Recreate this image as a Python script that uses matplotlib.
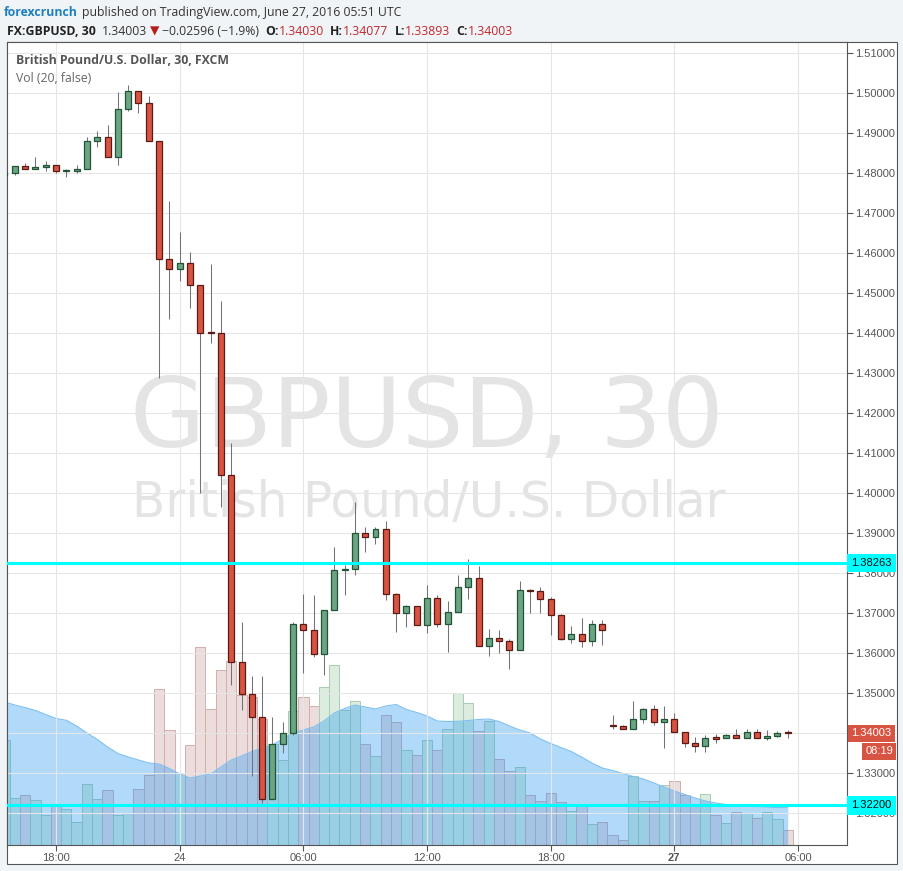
import numpy as np
import matplotlib.pyplot as plt
from matplotlib.patches import Rectangle

# GBPUSD 30-minute bars, 23 Jun 15:30 -> 27 Jun 05:30 (weekend gap collapsed)
# bar index 0 = 23 Jun 18:00
bar_idx = np.arange(-5, 72)

opens = [1.4795, 1.4800, 1.4818, 1.4810, 1.4815, 1.4820, 1.4805, 1.4807, 1.4812, 1.4882,
         1.4892, 1.4842, 1.4962, 1.5007, 1.4977, 1.4882, 1.4585, 1.4560, 1.4575, 1.4520,
         1.4402, 1.4402, 1.4047, 1.3578, 1.3498, 1.3440, 1.3235, 1.3373, 1.3400, 1.3673,
         1.3658, 1.3598, 1.3708, 1.3808, 1.3810, 1.3902, 1.3890, 1.3910, 1.3748, 1.3700,
         1.3718, 1.3670, 1.3738, 1.3673, 1.3703, 1.3765, 1.3788, 1.3618, 1.3638, 1.3630,
         1.3608, 1.3758, 1.3755, 1.3735, 1.3695, 1.3635, 1.3648, 1.3630, 1.3673, 1.3420,
         1.3418, 1.3410, 1.3435, 1.3460, 1.3428, 1.3435, 1.3403, 1.3375, 1.3368, 1.3388,
         1.3388, 1.3395, 1.3388, 1.3403, 1.3388, 1.3393, 1.34030]
highs = [1.4800, 1.4818, 1.4825, 1.4840, 1.4832, 1.4820, 1.4810, 1.4820, 1.4892, 1.4905,
         1.4921, 1.5003, 1.5021, 1.5007, 1.4993, 1.4882, 1.4731, 1.4653, 1.4603, 1.4520,
         1.4573, 1.4481, 1.4125, 1.3678, 1.3543, 1.3543, 1.3440, 1.3428, 1.3678, 1.3748,
         1.3745, 1.3708, 1.3866, 1.3820, 1.3978, 1.3916, 1.3916, 1.3931, 1.3750, 1.3721,
         1.3718, 1.3771, 1.3745, 1.3731, 1.3796, 1.3836, 1.3818, 1.3660, 1.3658, 1.3635,
         1.3781, 1.3760, 1.3765, 1.3740, 1.3698, 1.3668, 1.3688, 1.3683, 1.3683, 1.3446,
         1.3421, 1.3480, 1.3463, 1.3471, 1.3468, 1.3450, 1.3403, 1.3390, 1.3395, 1.3398,
         1.3398, 1.3410, 1.3410, 1.3410, 1.3408, 1.3405, 1.34077]
lows = [1.4793, 1.4797, 1.4810, 1.4810, 1.4807, 1.4800, 1.4792, 1.4800, 1.4812, 1.4867,
        1.4842, 1.4822, 1.4955, 1.4950, 1.4882, 1.4289, 1.4437, 1.4532, 1.4464, 1.4000,
        1.4377, 1.3967, 1.3522, 1.3459, 1.3294, 1.3225, 1.3235, 1.3350, 1.3396, 1.3550,
        1.3591, 1.3547, 1.3708, 1.3747, 1.3797, 1.3853, 1.3874, 1.3733, 1.3654, 1.3667,
        1.3670, 1.3652, 1.3667, 1.3604, 1.3703, 1.3735, 1.3618, 1.3594, 1.3600, 1.3562,
        1.3608, 1.3702, 1.3700, 1.3645, 1.3633, 1.3627, 1.3615, 1.3618, 1.3620, 1.3412,
        1.3410, 1.3410, 1.3425, 1.3420, 1.3363, 1.3403, 1.3365, 1.3353, 1.3353, 1.3375,
        1.3388, 1.3388, 1.3388, 1.3388, 1.3383, 1.3390, 1.33893]
closes = [1.4800, 1.4818, 1.4810, 1.4815, 1.4820, 1.4805, 1.4807, 1.4812, 1.4882, 1.4892,
          1.4842, 1.4962, 1.5007, 1.4977, 1.4882, 1.4585, 1.4560, 1.4575, 1.4520, 1.4402,
          1.4400, 1.4047, 1.3578, 1.3498, 1.3440, 1.3235, 1.3373, 1.3400, 1.3673, 1.3658,
          1.3598, 1.3708, 1.3808, 1.3810, 1.3902, 1.3890, 1.3910, 1.3748, 1.3700, 1.3718,
          1.3670, 1.3738, 1.3673, 1.3703, 1.3765, 1.3788, 1.3618, 1.3638, 1.3630, 1.3608,
          1.3758, 1.3755, 1.3735, 1.3695, 1.3635, 1.3648, 1.3630, 1.3673, 1.3658, 1.3418,
          1.3410, 1.3435, 1.3460, 1.3428, 1.3435, 1.3403, 1.3375, 1.3368, 1.3388, 1.3387,
          1.3395, 1.3388, 1.3403, 1.3388, 1.3393, 1.3400, 1.34003]

volume = [104.7, 47.3, 50.3, 45.3, 29.7, 39.3, 36.0, 23.3, 61.3, 46.3,
          55.3, 29.7, 32.3, 56.3, 70.3, 156.3, 115.3, 72.0, 100.3, 198.5,
          136.3, 175.3, 183.7, 150.0, 148.0, 126.0, 101.3, 84.7, 133.7, 147.7,
          139.3, 157.7, 180.3, 135.3, 144.3, 101.3, 89.3, 129.7, 122.7, 95.3,
          90.3, 105.3, 94.7, 116.3, 152.3, 142.3, 114.3, 123.7, 86.3, 74.3,
          78.3, 50.3, 44.3, 52.3, 43.3, 33.7, 40.3, 21.3, 22.7, 10.3,
          5.3, 68.7, 44.3, 44.3, 60.3, 63.7, 49.7, 41.3, 50.7, 30.3,
          21.7, 32.7, 32.3, 26.7, 33.3, 25.7, 15.3]
vol_ma = [143, 140, 137.5, 134.5, 130.5, 126.5, 124.7, 119, 112, 105.5,
          98, 91.5, 88, 85, 82, 81, 76.5, 71, 67, 69,
          71, 78, 85, 89, 93.5, 97, 100, 106, 112, 115,
          118, 124, 132, 136.5, 140, 138, 136, 139, 140.5, 135.5,
          132.5, 129, 124, 123.5, 123.7, 124.5, 125.5, 126, 123.5, 119,
          115, 112, 106, 101.5, 97.5, 93.5, 88, 82, 77, 74.5,
          71.5, 68.5, 66, 62, 58, 54, 50.5, 47, 44, 42,
          40.5, 39.5, 38.7, 38.2, 37.8, 37.5, 37.3]

tick_idx = [0, 12, 24, 36, 48, 60, 72]
tick_labels = ["18:00", "24", "06:00", "12:00", "18:00", "27", "06:00"]
price_ticks = [1.32, 1.33, 1.34, 1.35, 1.36, 1.37, 1.38, 1.39, 1.40, 1.41,
               1.42, 1.43, 1.44, 1.45, 1.46, 1.47, 1.48, 1.49, 1.50, 1.51]
levels = [1.38263, 1.32200]

opens, highs, lows, closes = map(np.array, (opens, highs, lows, closes))
up = closes >= opens

W, H = 904, 871
fx = lambda px: px / W
fy = lambda py: 1 - py / H

fig = plt.figure(figsize=(W / 100, H / 100), dpi=100, facecolor="#f1f4f7")
# white chart frame incl. axis strips
fig.add_artist(Rectangle((fx(7), fy(864)), fx(890), 822 / H, transform=fig.transFigure,
                         facecolor="white", edgecolor="#555555", lw=0.8, zorder=-5))

rect = [fx(7), fy(845), fx(840), 803 / H]
axv = fig.add_axes(rect, zorder=1)
ax = fig.add_axes(rect, zorder=2, sharex=axv)
ax.patch.set_alpha(0)

# volume pane
red_vol = "#ecdcdc"
green_vol = "#dcecdf"
vcol = [green_vol if u else red_vol for u in up]
vedge = ["#a8cdb2" if u else "#d2aeae" for u in up]
axv.bar(bar_idx, volume, width=1.0, color=vcol, edgecolor=vedge, linewidth=0.7, zorder=1)
axv.fill_between(bar_idx, vol_ma, color="#2196f3", alpha=0.35, lw=0, zorder=2)
axv.plot(bar_idx, vol_ma, color="#7cc0f2", lw=0.8, zorder=3)
axv.set_ylim(0, 803)
axv.set_facecolor("white")
for s in axv.spines.values():
    s.set_visible(False)
axv.tick_params(left=False, labelleft=False, bottom=False, labelbottom=False)

# candles
ax.vlines(bar_idx, lows, highs, color="#737375", lw=0.75, zorder=2)
body_h = np.maximum(np.abs(closes - opens), 0.0003)
ax.bar(bar_idx, body_h, bottom=np.minimum(opens, closes), width=0.58,
       color=np.where(up, "#6ba583", "#d75442"),
       edgecolor=np.where(up, "#225437", "#5b1a13"), linewidth=0.9, zorder=3)

for lv in levels:
    ax.axhline(lv, color="#00ffff", lw=2.2, zorder=5)

ax.set_xlim(-4.755, 76.75)
ax.set_ylim(1.31208, 1.51283)
ax.yaxis.tick_right()
ax.set_yticks(price_ticks)
# the 1.34000 label sits fully under the last-price marker, so leave it blank
ax.set_yticklabels(["" if abs(p - 1.34) < 1e-9 else f"{p:.5f}" for p in price_ticks])
ax.set_xticks(tick_idx)
ax.set_xticklabels(tick_labels)
ax.xaxis.get_ticklabels()[5].set_fontweight("bold")
ax.xaxis.get_ticklabels()[5].set_color("#333333")
ax.tick_params(axis="both", direction="out", length=4, width=0.8, color="#555555",
               labelcolor="#555555", labelsize=8, pad=2)
for lab in ax.get_xticklabels() + ax.get_yticklabels():
    lab.set_family("Liberation Sans")
ax.grid(True, color="#e6e6e6", lw=0.8, zorder=0.5)
ax.set_axisbelow(True)
for s in ax.spines.values():
    s.set_color("#555555")
    s.set_linewidth(0.8)

# watermark
ax.text(fx(427), fy(447), "GBPUSD, 30", transform=fig.transFigure, ha="center", va="baseline",
        fontsize=70, color="#e4e4e4", family="DejaVu Sans", zorder=0.1)
ax.text(fx(428.7), fy(517), "British Pound/U.S. Dollar", transform=fig.transFigure,
        ha="center", va="baseline", fontsize=35, color="#e4e4e4", family="DejaVu Sans",
        zorder=0.1)

# legend texts inside pane
fig.text(fx(16), fy(61), "British Pound/U.S. Dollar, 30, FXCM", fontsize=8.8, color="#555555",
         fontweight="bold", family="Open Sans", va="center", zorder=10)
fig.text(fx(16), fy(79), "Vol (20, false)", fontsize=8.8, color="#666666",
         family="Open Sans", va="center", zorder=10)

# right-axis price labels
ytr = ax.get_yaxis_transform()
for lv in levels:
    ax.text(1.005, lv, f"{lv:.5f}", transform=ytr, ha="left", va="center", fontsize=8,
            family="Liberation Sans", color="#111111", clip_on=False, zorder=10,
            bbox=dict(boxstyle="square,pad=0.38", fc="#00ffff", ec="none"))
ax.text(1.005, closes[-1], f"{closes[-1]:.5f}", transform=ytr, ha="left", va="center",
        fontsize=8, family="Liberation Sans", color="white", clip_on=False, zorder=10,
        bbox=dict(boxstyle="square,pad=0.3", fc="#d75442", ec="none"))
ax.annotate("08:19", xy=(1.0, closes[-1]), xycoords=ytr, xytext=(46, -18),
            textcoords="offset pixels", ha="right", va="center", fontsize=8,
            family="Liberation Sans", color="white", annotation_clip=False, zorder=10,
            bbox=dict(boxstyle="square,pad=0.3", fc="#d75442", ec="none"))

# header lines
def chain(parts, x, y):
    prev = fig.text(fx(x), fy(y), parts[0][0], va="bottom", ha="left", **parts[0][1])
    for s, kw in parts[1:]:
        gap = kw.pop("gap", 3)
        prev = ax.annotate(s, xy=(1, 0), xycoords=prev, xytext=(gap, 0),
                           textcoords="offset pixels", va="bottom", ha="left",
                           annotation_clip=False, **kw)
    return prev

base = dict(fontsize=8.8, family=["Open Sans", "DejaVu Sans"], color="#333333")
bold = dict(base, fontweight="bold", color="#222222")
red = dict(base, color="#c0282d")
chain([("forexcrunch", dict(base, color="#1e80c0", fontweight="bold")),
       ("published on TradingView.com, June 27, 2016 05:51 UTC", dict(base, gap=4))], 4, 19)
chain([("FX:GBPUSD, 30", dict(bold)),
       ("1.34003", dict(base, gap=6)),
       ("\u25bc", dict(base, color="#b71c1c", gap=3)),
       ("\u22120.02596 (\u22121.9%)", dict(base, gap=3)),
       ("O:", dict(bold, gap=6)), ("1.34030", dict(red, gap=0)),
       ("H:", dict(bold, gap=6)), ("1.34077", dict(red, gap=0)),
       ("L:", dict(bold, gap=6)), ("1.33893", dict(red, gap=0)),
       ("C:", dict(bold, gap=6)), ("1.34003", dict(red, gap=0))], 7, 38)

fig.savefig("out.png", dpi=100, facecolor=fig.get_facecolor())
